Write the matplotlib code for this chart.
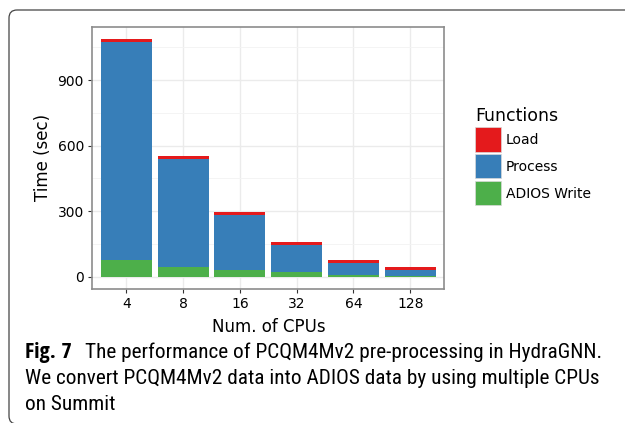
import numpy as np
import matplotlib
matplotlib.use('Agg')
import matplotlib.pyplot as plt
from matplotlib import font_manager
from matplotlib.font_manager import FontProperties
from matplotlib.patches import Patch, FancyBboxPatch

# data (seconds)
cpus = ['4', '8', '16', '32', '64', '128']
adios_write = [78, 44, 30, 21, 6, 5]
process = [997, 495, 253, 125, 58, 26]
load = [11, 13, 14, 14, 14, 14]
functions = ['Load', 'Process', 'ADIOS Write']
colors = {'Load': '#E41A1C', 'Process': '#377EB8', 'ADIOS Write': '#4DAF4A'}

W, H = 6.25, 4.23
fig = plt.figure(figsize=(W, H), dpi=100)
ax = fig.add_axes([0.1477, 0.3175, 0.5632, 0.6194])

x = np.arange(len(cpus))
bottom = np.zeros(len(cpus))
for name, vals in [('ADIOS Write', adios_write), ('Process', process), ('Load', load)]:
    ax.bar(x, vals, 0.9, bottom=bottom, color=colors[name], linewidth=0, zorder=2)
    bottom += np.array(vals)

ax.set_xlim(-0.6, 5.6)
ax.set_ylim(-54.5, 1144)
ax.set_xticks(x)
ax.set_xticklabels(cpus)
ax.set_yticks([0, 300, 600, 900])
ax.set_yticks([150, 450, 750, 1050], minor=True)
ax.set_axisbelow(True)
ax.grid(which='major', color='#ebebeb', lw=1.0)
ax.grid(which='minor', axis='y', color='#f3f3f3', lw=0.6)
ax.tick_params(which='major', length=3, width=0.8, color='#333333', labelsize=10, pad=3)
ax.tick_params(which='minor', length=0)
for s in ax.spines.values():
    s.set_color('#8c8c8c')
    s.set_linewidth(1.2)

ax.set_ylabel('Time (sec)', fontsize=12)
ax.yaxis.set_label_coords(-0.115, 0.5)
ax.set_xlabel('Num. of CPUs', fontsize=12)
ax.xaxis.set_label_coords(0.5, -0.112)

handles = [Patch(facecolor=colors[f], edgecolor='#d9d9d9', lw=0.5) for f in functions]
fig.legend(handles, functions, title='Functions', loc='upper left',
           bbox_to_anchor=(0.7600, 0.7480), frameon=False, borderpad=0, borderaxespad=0,
           fontsize=10, title_fontsize=12.5, handlelength=1.84, handleheight=2.3,
           labelspacing=0.2, handletextpad=0.4, alignment='left')

# rounded frame around figure + caption
box = FancyBboxPatch((0.09, -0.01), 9.0, 4.14, boxstyle='round,pad=0,rounding_size=0.08',
                     transform=fig.dpi_scale_trans, fill=False, ec='#444444', lw=0.9)
fig.add_artist(box)


# caption font: look for a narrow face, regular and bold separately
def _w(e):
    w = e.weight
    if isinstance(w, str):
        w = font_manager.weight_dict.get(w, 400)
    return int(w)


def find_face(prefs, lo, hi):
    for name, narrow in prefs:
        for e in font_manager.fontManager.ttflist:
            if e.name != name or e.style != 'normal' or not (lo <= _w(e) <= hi):
                continue
            if narrow and 'condensed' not in str(e.stretch):
                continue
            return e.fname
    return None


reg_file = find_face([('Liberation Sans Narrow', False), ('Roboto Condensed', False),
                      ('Open Sans Condensed', False), ('Open Sans', True),
                      ('Noto Sans', True), ('Open Sans', False)], 300, 450)
bold_file = find_face([('Open Sans Condensed', False), ('Liberation Sans Narrow', False),
                       ('Open Sans', False)], 600, 800)
reg = FontProperties(fname=reg_file) if reg_file else FontProperties(family='Open Sans')
bold = FontProperties(fname=bold_file) if bold_file else FontProperties(family='Open Sans', weight='bold')

left = 25 / 625
line1 = 'The performance of PCQM4Mv2 pre-processing in HydraGNN.'
line2 = 'We convert PCQM4Mv2 data into ADIOS data by using multiple CPUs'
line3 = 'on Summit'
t2 = fig.text(left, 1 - 384.3 / 423, line2, fontproperties=reg, fontsize=15, va='baseline')
renderer = fig.canvas.get_renderer()
cap_size = 15 * 575 / t2.get_window_extent(renderer).width
t2.set_fontsize(cap_size)
fig.text(left, 1 - 410 / 423, line3, fontproperties=reg, fontsize=cap_size, va='baseline')

t1 = fig.text(left, 1 - 358.3 / 423, 'Fig. 7', fontproperties=bold, fontsize=16, va='baseline')
t1.set_fontsize(16 * 47 / t1.get_window_extent(renderer).width)
bb = t1.get_window_extent(renderer)
t3 = fig.text(bb.x1 / (W * fig.dpi) + 13 / 625, 1 - 358.3 / 423, line1,
              fontproperties=reg, fontsize=cap_size, va='baseline')

fig.savefig('out.png', dpi=100)
